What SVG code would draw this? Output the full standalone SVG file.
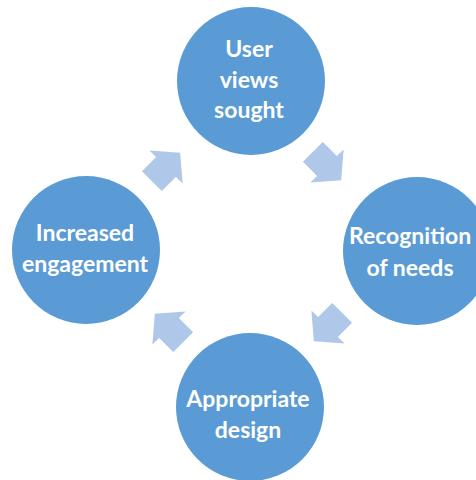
<svg xmlns="http://www.w3.org/2000/svg" width="476" height="480" viewBox="0 0 476 480">
  <style>
    .node circle { fill: #5b9bd5; }
    .node text { fill: #ffffff; font-family: Lato, "Liberation Sans", sans-serif; font-weight: bold; font-size: 23px; text-anchor: middle; }
    .arrow { fill: #afc7e8; }
  </style>
  <defs>
    <!-- block arrow pointing along +x, origin at the base of the head -->
    <polygon id="blockArrow" points="-20,-14 0,-14 0,-23.5 20,0 0,23.5 0,14 -20,14"/>
  </defs>
  <rect width="476" height="480" fill="#ffffff"/>

  <g id="connectors">
    <use href="#blockArrow" class="arrow" transform="translate(327,166) rotate(45)"/>
    <use href="#blockArrow" class="arrow" transform="translate(328,327) rotate(135)"/>
    <use href="#blockArrow" class="arrow" transform="translate(169,328) rotate(-135)"/>
    <use href="#blockArrow" class="arrow" transform="translate(166,167) rotate(-45)"/>
  </g>

  <g id="user-views" class="node">
    <circle cx="251" cy="81" r="74"/>
    <text x="249" y="57">User</text>
    <text x="249" y="88">views</text>
    <text x="249" y="118">sought</text>
  </g>

  <g id="recognition" class="node">
    <circle cx="417" cy="251" r="74"/>
    <text x="410" y="244">Recognition</text>
    <text x="410" y="276">of needs</text>
  </g>

  <g id="design" class="node">
    <circle cx="250" cy="407" r="74"/>
    <text x="248" y="407">Appropriate</text>
    <text x="248" y="438">design</text>
  </g>

  <g id="engagement" class="node">
    <circle cx="86" cy="250" r="74"/>
    <text x="85" y="241">Increased</text>
    <text x="85" y="272">engagement</text>
  </g>
</svg>
